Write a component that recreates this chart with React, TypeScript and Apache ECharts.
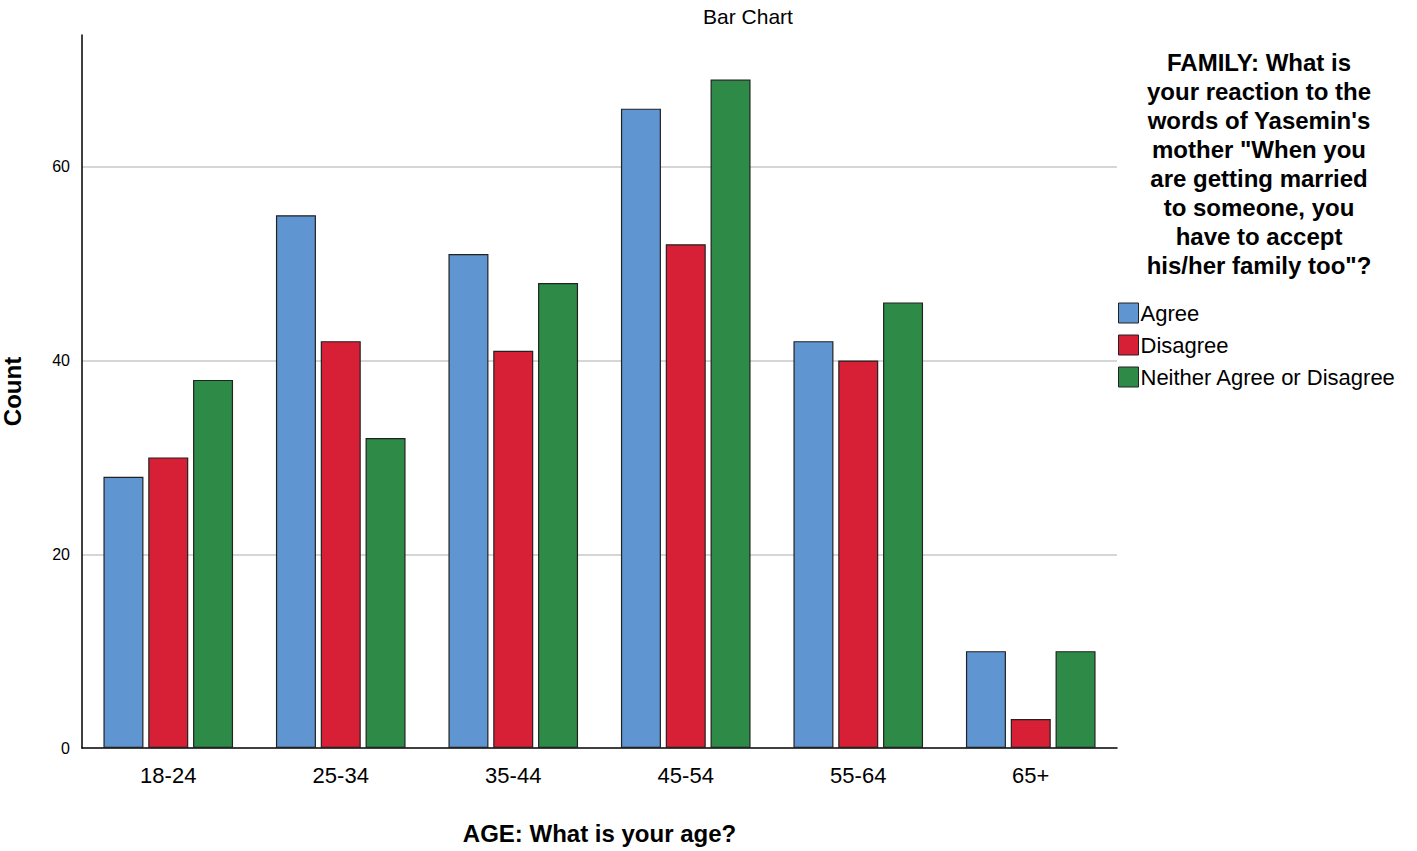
import React, { useEffect, useRef } from 'react';
import * as echarts from 'echarts';

const categories = ['18-24', '25-34', '35-44', '45-54', '55-64', '65+'];
const agree = [28, 55, 51, 66, 42, 10];
const disagree = [30, 42, 41, 52, 40, 3];
const neither = [38, 32, 48, 69, 46, 10];
const gridValues = [20, 40, 60];
const legendTitle = [
  'FAMILY: What is',
  'your reaction to the',
  "words of Yasemin's",
  'mother "When you',
  'are getting married',
  'to someone, you',
  'have to accept',
  'his/her family too"?',
];

const FONT = '"Liberation Sans", Arial, sans-serif';

export default function App() {
  const chartRef = useRef<HTMLDivElement>(null);

  useEffect(() => {
    if (!chartRef.current) return;
    const chart = echarts.init(chartRef.current, undefined, { renderer: 'svg' });

    const bar = (name: string, data: number[], color: string, withGrid = false) => ({
      name,
      type: 'bar' as const,
      data,
      barWidth: 40,
      barGap: '12%',
      itemStyle: { color, borderColor: '#222', borderWidth: 1.2 },
      ...(withGrid
        ? {
            markLine: {
              silent: true,
              symbol: 'none',
              label: { show: false },
              lineStyle: { color: '#c8c8c8', type: 'solid', width: 1.5 },
              data: gridValues.map(v => ({ yAxis: v })),
              z: 0,
            },
          }
        : {}),
    });

    chart.setOption({
      animation: false,
      textStyle: { fontFamily: FONT },
      title: {
        text: 'Bar Chart',
        left: 751,
        top: 1,
        textAlign: 'center',
        textStyle: { fontSize: 21, fontWeight: 'normal', color: '#000', fontFamily: FONT },
      },
      grid: { left: 82, right: 300, top: 35, bottom: 103 },
      legend: {
        orient: 'vertical',
        left: 1121,
        top: 297,
        itemWidth: 20,
        itemHeight: 20,
        itemGap: 10,
        icon: 'rect',
        itemStyle: { borderColor: '#222', borderWidth: 1 },
        textStyle: { fontSize: 22, color: '#000', fontFamily: FONT, padding: [0, 0, 0, -3] },
        data: ['Agree', 'Disagree', 'Neither Agree or Disagree'],
      },
      graphic: [
        {
          type: 'text',
          x: 1267,
          y: 48,
          style: {
            text: legendTitle.join('\n'),
            font: `bold 24px ${FONT}`,
            lineHeight: 29,
            align: 'center',
            verticalAlign: 'top',
            fill: '#000',
          },
        },
      ],
      xAxis: {
        type: 'category',
        data: categories,
        name: 'AGE: What is your age?',
        nameLocation: 'middle',
        nameGap: 73,
        nameTextStyle: { fontSize: 24, fontWeight: 'bold', color: '#000' },
        axisLine: { lineStyle: { color: '#000', width: 1.5 } },
        axisTick: { show: false },
        axisLabel: { fontSize: 22, color: '#000', margin: 16 },
      },
      yAxis: {
        type: 'value',
        min: 0,
        max: 73.6,
        interval: 20,
        name: 'Count',
        nameLocation: 'middle',
        nameGap: 58,
        nameTextStyle: { fontSize: 24, fontWeight: 'bold', color: '#000' },
        axisLine: { show: true, lineStyle: { color: '#000', width: 1.5 } },
        axisTick: { show: false },
        splitLine: { show: false },
        axisLabel: { fontSize: 16, color: '#000', margin: 12, showMaxLabel: false },
      },
      series: [
        bar('Agree', agree, '#5f95d0', true),
        bar('Disagree', disagree, '#d71f35'),
        bar('Neither Agree or Disagree', neither, '#2e8b47'),
      ],
    });

    return () => chart.dispose();
  }, []);

  return (
    <div
      ref={chartRef}
      style={{ position: 'fixed', left: -8, top: 0, width: 1425, height: 851, background: '#fff' }}
    />
  );
}
